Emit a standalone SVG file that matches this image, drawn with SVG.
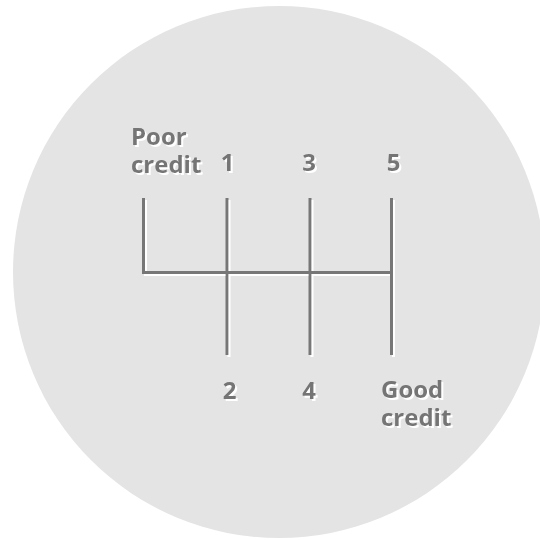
<svg xmlns="http://www.w3.org/2000/svg" width="540" height="540" viewBox="0 0 540 540">
  <defs>
    <!-- white embossed edge, offset down-right -->
    <filter id="emboss" x="-10%" y="-10%" width="130%" height="130%">
      <feOffset in="SourceAlpha" dx="2" dy="2" result="off"/>
      <feFlood flood-color="#ffffff" result="white"/>
      <feComposite in="white" in2="off" operator="in" result="shadow"/>
      <feMerge>
        <feMergeNode in="shadow"/>
        <feMergeNode in="SourceGraphic"/>
      </feMerge>
    </filter>
    <style>
      .lbl { font-family: "Open Sans", "Liberation Sans", sans-serif; font-weight: bold; font-size: 24px; fill: #747474; filter: url(#emboss); }
      .mid { text-anchor: middle; }
      .bar { stroke: #777777; stroke-width: 3; fill: none; stroke-linecap: butt; }
    </style>
  </defs>

  <!-- knob background -->
  <circle cx="279" cy="272" r="266" fill="#e4e4e4"/>

  <!-- shift pattern -->
  <g id="connectors" filter="url(#emboss)">
    <path class="bar" d="M143.5 198 V272.5 H391.5 M227 198 V355 M310 198 V355 M391.5 198 V355"/>
  </g>

  <g id="poor-credit">
    <text class="lbl" x="131"><tspan x="131" y="144.5">Poor</tspan><tspan x="131" y="172.5">credit</tspan></text>
  </g>
  <g id="gear-1">
    <text class="lbl mid" x="227.5" y="170.5">1</text>
  </g>
  <g id="gear-3">
    <text class="lbl mid" x="309" y="170.5">3</text>
  </g>
  <g id="gear-5">
    <text class="lbl mid" x="393.5" y="170.5">5</text>
  </g>
  <g id="gear-2">
    <text class="lbl mid" x="229.5" y="399">2</text>
  </g>
  <g id="gear-4">
    <text class="lbl mid" x="309" y="399">4</text>
  </g>
  <g id="good-credit">
    <text class="lbl" x="381"><tspan x="381" y="397.5">Good</tspan><tspan x="381" y="425.5">credit</tspan></text>
  </g>
</svg>
